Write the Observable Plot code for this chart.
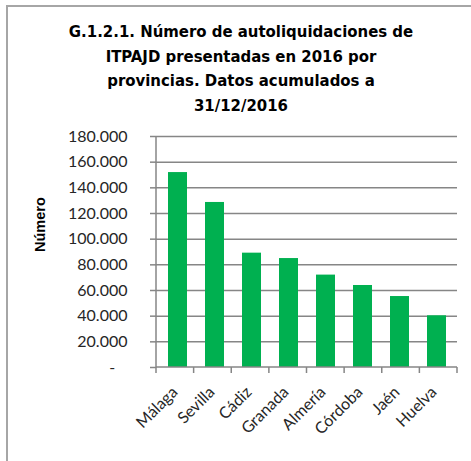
<!DOCTYPE html>
<html><head><meta charset="utf-8">
<script src="https://cdn.jsdelivr.net/npm/d3@7"></script>
<script src="https://cdn.jsdelivr.net/npm/@observablehq/plot@0.6"></script>
<style>
body{margin:0;background:#fff;}
#wrap{position:relative;width:471px;height:461px;overflow:hidden;background:#fff;}
#border{position:absolute;left:6px;top:5px;width:480px;height:470px;border-left:2px solid #a6a6a6;border-top:2px solid #a6a6a6;}
#title{position:absolute;left:0;top:20px;width:482px;text-align:center;font-family:"Liberation Sans Narrow","DejaVu Sans Condensed",sans-serif;font-stretch:condensed;font-weight:bold;font-size:16.6px;line-height:24.6px;color:#000;}
#chart{position:absolute;left:0;top:120px;}
</style></head>
<body><div id="wrap"><div id="border"></div>
<div id="title">G.1.2.1. Número de autoliquidaciones de<br>ITPAJD presentadas en 2016 por<br>provincias. Datos acumulados a<br>31/12/2016</div>
<div id="chart"></div></div>
<script>
const provincias = ["Málaga","Sevilla","Cádiz","Granada","Almería","Córdoba","Jaén","Huelva"];
const autoliquidaciones = [151900,128600,89100,84900,72000,63900,55300,40300];
const yTicks = [0,20000,40000,60000,80000,100000,120000,140000,160000,180000];
const yTitle = "Número";

const data = provincias.map((p,i)=>({provincia:p, valor:autoliquidaciones[i]}));
const es = d3.formatLocale({decimal:",",thousands:".",grouping:[3],currency:["","€"]});
const fmt = es.format(",");
const axisColor = "#868686";
const textColor = "#262626";
const tickFont = "Lato, 'Open Sans', sans-serif";

function axisFrame(index, scales, values, dims){
  const g = d3.create("svg:g").attr("stroke", axisColor).attr("stroke-width", 1.5).attr("fill","none");
  const x0 = dims.marginLeft, x1 = dims.width - dims.marginRight;
  const yb = scales.y(0), yt = scales.y(yTicks[yTicks.length-1]);
  g.append("line").attr("x1",x0).attr("x2",x0).attr("y1",yt).attr("y2",yb+0.5);
  g.append("line").attr("x1",x0).attr("x2",x1).attr("y1",yb).attr("y2",yb);
  const n = provincias.length;
  for(let i=0;i<=n;i++){
    const xx = x0 + i*(x1-x0)/n;
    g.append("line").attr("x1",xx).attr("x2",xx).attr("y1",yb).attr("y2",yb+6);
  }
  return g.node();
}

const chart = Plot.plot({
  width: 471, height: 341,
  marginLeft: 156, marginRight: 14, marginTop: 16, marginBottom: 94,
  style: {fontFamily: tickFont, fontSize: "16px", color: textColor, background: "transparent"},
  x: {domain: provincias, paddingInner: 0.5, paddingOuter: 0.25},
  y: {domain: [0, 180000]},
  marks: [
    Plot.gridY(yTicks.filter(d=>d>0), {stroke: axisColor, strokeOpacity: 1, strokeWidth: 1.5}),
    Plot.barY(data, {x: "provincia", y: "valor", fill: "#00b050"}),
    axisFrame,
    Plot.axisY(yTicks, {tickSize: 6, tickPadding: 23, stroke: axisColor, strokeWidth: 1.5, fill: textColor, fontSize: 16, fontFamily: tickFont, label: null,
      tickFormat: d => d === 0 ? "-\u00a0\u00a0\u00a0" : fmt(d)}),
    Plot.axisX({tickSize: 0, tickPadding: 22, dx: -3, tickRotate: -45, fill: textColor, fontSize: 16, fontFamily: tickFont, label: null}),
    Plot.text([yTitle], {frameAnchor: "left", rotate: -90, dx: -116, fontWeight: "bold", fontSize: 14.5,
      fontFamily: "'Liberation Sans', Arial, sans-serif", fill: "#000"})
  ]
});
document.getElementById("chart").appendChild(chart);
</script></body></html>
